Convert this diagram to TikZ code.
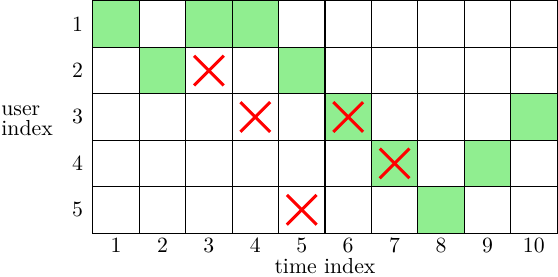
\documentclass[tikz,border=0pt]{standalone}
\usepackage{xcolor}
\usepackage{tikz}
\usetikzlibrary{positioning}
\definecolor{slotgreen}{HTML}{90EE90}
\definecolor{hitred}{HTML}{FF0000}
\tikzset{
  slot/.style={draw=black,line width=0.5pt,minimum size=0.75cm,
               inner sep=0pt,outer sep=0pt},
  busy/.style={slot,fill=slotgreen},
  collide/.style={draw=hitred,line width=1.4pt},
  axislabel/.style={inner sep=0pt},
}

\begin{document}
\begin{tikzpicture}[x=0.75cm,y=0.75cm]
  \useasboundingbox (-2.0,-0.93) rectangle (10.02,5.02);
  % slots
  \foreach \t in {1,...,10}{
    \foreach \u in {1,...,5}{
      \node[slot] (s-\t-\u) at (\t-0.5,5.5-\u) {};
    }
  }
  \foreach \t/\u in {1/1,3/1,4/1,2/2,5/2,6/3,10/3,7/4,9/4,8/5}{
    \node[busy] at (s-\t-\u) {};
  }
  % collisions
  \foreach \t/\u in {3/2,4/3,6/3,7/4,5/5}{
    \draw[collide]([shift={(-0.32,-0.32)}]s-\t-\u.center)
      --([shift={(0.32,0.32)}]s-\t-\u.center);
    \draw[collide]([shift={(-0.32,0.32)}]s-\t-\u.center)
      --([shift={(0.32,-0.32)}]s-\t-\u.center);
  }
  % axes
  \foreach \u in {1,...,5}{
    \node (u-\u)at(-0.33,5.5-\u){\u};
  }
  \foreach \t in {1,...,10}{
    \node (t-\t)at(\t-0.5,-0.27){\t};
  }
  \node (tlab)at(5,-0.72){time index};
  \node[axislabel,anchor=west,align=left] (ulab)at(-1.98,2.42){user\\[-3pt]index};
\end{tikzpicture}
\end{document}
